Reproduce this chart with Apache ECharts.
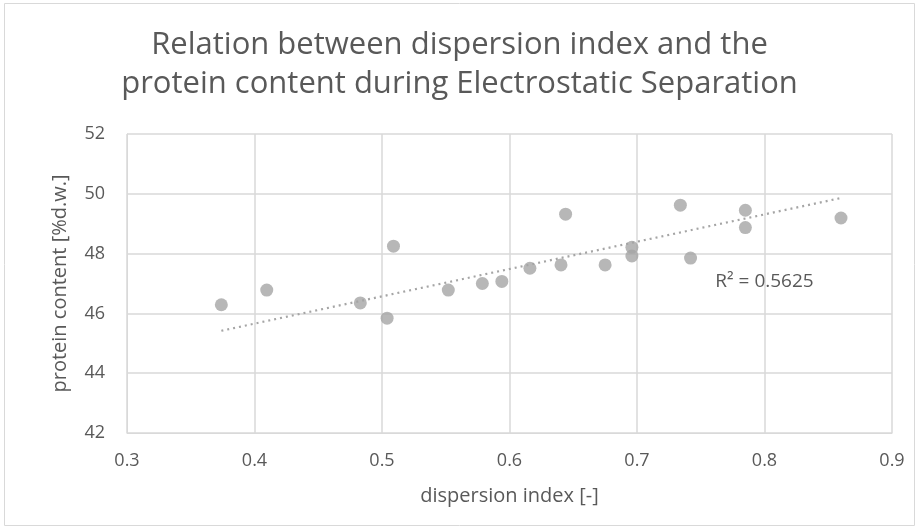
<!DOCTYPE html>
<html><head><meta charset="utf-8">
<script src="https://cdn.jsdelivr.net/npm/echarts@6/dist/echarts.min.js"></script>
<style>html,body{margin:0;padding:0;background:#fff}#c{width:919px;height:529px}</style>
</head><body><div id="c"></div>
<script>
var dispersionIndex = [0.374,0.4096,0.509,0.483,0.504,0.552,0.5787,0.594,0.616,0.6404,0.644,0.675,0.696,0.696,0.734,0.742,0.785,0.785,0.86];
var proteinContent = [46.29,46.78,48.25,46.35,45.84,46.78,47.0,47.07,47.51,47.62,49.32,47.62,48.21,47.92,49.62,47.85,49.45,48.87,49.19];
// trendline end points (Excel linear trendline)
var trendX = [0.374, 0.859];
var trendY = [45.42, 49.85];
var r2Label = 'R² = 0.5625';
var r2Pos = [0.8, 47.06];
var titleLines = ['Relation between dispersion index and the','protein content during Electrostatic Separation'];

var pts = dispersionIndex.map(function(x,i){return [x,proteinContent[i]];});
var trend = trendX.map(function(x,i){return [x,trendY[i]];});

var font='"Open Sans", sans-serif';
var chart=echarts.init(document.getElementById('c'));
chart.setOption({
  animation:false,
  title:{text:titleLines.join('\n'),left:'center',top:21,textStyle:{fontFamily:font,fontSize:31,fontWeight:'normal',color:'#595959',lineHeight:39}},
  grid:{left:127,top:134,right:27,bottom:96},
  graphic:[{type:'rect',shape:{x:4.5,y:3.5,width:910,height:522},style:{fill:null,stroke:'#d9d9d9',lineWidth:1}}],
  xAxis:{type:'value',min:0.3,max:0.9,interval:0.1,
    name:'dispersion index [-]',nameLocation:'middle',nameGap:53,
    nameTextStyle:{fontFamily:font,fontSize:20,color:'#595959'},
    axisLine:{show:true,lineStyle:{color:'#d9d9d9',width:1}},axisTick:{show:false},
    axisLabel:{fontFamily:font,fontSize:18,color:'#595959',margin:19,formatter:function(v){return v.toFixed(1);}},
    splitLine:{show:true,lineStyle:{color:'#d9d9d9',width:1.5}}},
  yAxis:{type:'value',min:42,max:52,interval:2,
    name:'protein content [%d.w.]',nameLocation:'middle',nameGap:57,
    nameTextStyle:{fontFamily:font,fontSize:20,color:'#595959'},
    axisLine:{show:true,lineStyle:{color:'#d9d9d9',width:1}},axisTick:{show:false},
    axisLabel:{fontFamily:font,fontSize:18,color:'#595959',margin:22},
    splitLine:{show:true,lineStyle:{color:'#d9d9d9',width:1.5}}},
  series:[
    {type:'scatter',data:pts,symbolSize:13,itemStyle:{color:'#a5a5a5'},z:3},
    {type:'line',data:trend,symbol:'none',lineStyle:{color:'#a5a5a5',width:2.2,type:[2,4]},z:2,
      markPoint:{symbol:'rect',symbolSize:1,itemStyle:{color:'transparent'},
        data:[{coord:r2Pos,label:{show:true,formatter:r2Label,fontFamily:font,fontSize:19,color:'#595959'}}]}}
  ]
});
</script></body></html>
